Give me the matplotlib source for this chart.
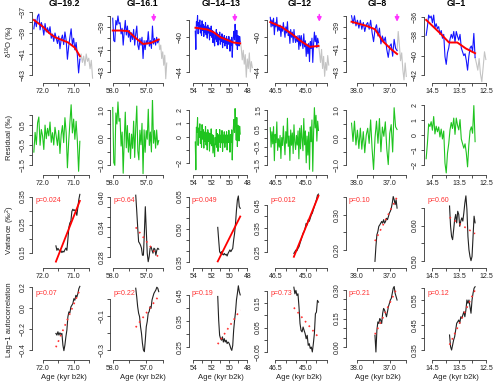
import numpy as np
import matplotlib
matplotlib.use("Agg")
import matplotlib.pyplot as plt

plt.rcParams["font.family"] = ["Liberation Sans", "DejaVu Sans"]
plt.rcParams["mathtext.default"] = "regular"

events = ["GI−19.2", "GI−16.1", "GI−14−13", "GI−12", "GI−8", "GI−1"]
row_labels = ["δ$^{18}$O (‰)", "Residual (‰)", "Variance (‰$^{2}$)", "Lag−1 autocorrelation"]

# age spans (kyr b2k)
record_start = [72.29, 58.00, 53.80, 46.75, 38.16, 14.72]
record_end = [70.81, 56.62, 48.80, 44.40, 36.78, 12.90]
tail_end = [70.40, 56.38, 47.45, 43.90, 36.50, 12.50]
window_start = [71.58, 57.31, 51.30, 45.60, 37.45, 13.85]
arrow_age = [None, 56.77, 49.40, 44.36, 36.78, None]

# d18O before each warming (blue)
d18o_gi19 = [-38.6, -37.7, -38.4, -37.4, -37.2, -38.7, -38.0, -38.4, -39.2, -38.1,
             -38.9, -38.5, -39.0, -38.4, -39.5, -39.1, -39.8, -39.0, -39.5, -40.0,
             -39.3, -40.5, -39.6, -39.2, -40.1, -38.9, -39.7, -41.5, -40.3, -39.4,
             -38.6, -40.1, -39.5, -40.6, -39.9, -41.1, -42.8, -41.5]
d18o_gi16 = [-38.2, -40.2, -40.3, -38.4, -38.8, -38.0, -38.7, -38.6, -39.6, -39.1,
             -40.6, -39.4, -38.4, -39.7, -38.9, -39.9, -39.3, -40.3, -39.5, -40.1,
             -39.2, -40.6, -39.6, -38.9, -40.6, -41.0, -40.0, -40.6, -39.9, -41.8,
             -40.2, -41.0, -40.2, -40.5, -39.4, -40.7, -40.2, -40.9, -38.9, -40.5,
             -40.0, -40.6, -39.9, -40.4, -40.2]
d18o_gi14 = [-39.3, -41.4, -38.2, -38.6, -37.5, -39.6, -38.3, -39.0, -38.0, -39.5,
             -38.6, -39.8, -38.1, -39.2, -38.5, -39.9, -38.7, -39.4, -38.3, -39.7,
             -38.8, -40.1, -38.6, -39.5, -38.9, -40.3, -39.0, -39.8, -38.7, -40.0,
             -39.2, -40.6, -39.3, -40.4, -41.0, -39.6, -40.2, -39.1, -40.5, -39.5,
             -40.9, -39.7, -40.3, -39.4, -40.8, -39.9, -40.5, -39.6, -41.2, -40.0,
             -40.6, -39.8, -41.0, -40.1, -40.7, -39.9, -41.3, -40.2, -40.8, -39.9,
             -40.5, -41.6, -40.3, -40.9, -40.0, -42.3, -40.6, -39.9, -39.3, -40.3,
             -38.5, -39.6, -40.9, -39.2, -41.4, -39.8, -40.2, -41.0, -39.9, -40.5]
d18o_gi12 = [-37.7, -38.8, -38.0, -38.7, -37.8, -39.7, -38.3, -38.8, -37.7, -39.3,
             -38.7, -39.2, -38.6, -39.9, -38.8, -39.3, -38.3, -39.2, -40.0, -38.8,
             -39.5, -38.2, -39.8, -39.3, -40.7, -39.1, -40.0, -39.4, -40.6, -39.1,
             -40.1, -40.6, -39.9, -40.5, -39.8, -41.4, -39.8, -41.0, -39.8, -40.6,
             -41.3, -39.6, -41.1, -40.4, -42.2, -40.8, -41.9, -40.7, -42.8, -40.5,
             -41.3, -40.1, -42.9, -40.8, -39.4, -40.5, -39.8, -41.2, -40.1, -40.6]
d18o_gi8 = [-38.0, -38.7, -38.0, -38.9, -38.4, -39.1, -38.4, -39.2, -38.6, -39.4,
            -38.8, -38.6, -39.2, -38.4, -39.5, -40.3, -39.2, -38.8, -39.8, -39.1,
            -40.5, -39.8, -40.3, -39.9, -41.0, -41.7, -40.7, -40.5, -41.6, -40.1,
            -40.9, -41.1]
d18o_gi1 = [-37.9, -37.0, -35.8, -36.1, -35.9, -36.6, -35.8, -37.1, -36.7, -37.2,
            -37.0, -37.8, -37.4, -38.2, -37.8, -40.1, -40.9, -39.7, -39.2, -38.3,
            -37.8, -38.2, -37.5, -38.6, -37.5, -38.0, -38.4, -37.8, -39.2, -39.6,
            -40.0, -39.8, -40.5, -41.5, -40.1, -39.2, -39.0, -39.5, -37.7, -40.2]

# record after the analysed segment (grey)
tail_gi19 = [-41.5, -41.0, -41.8, -41.2, -42.1, -41.0, -41.7, -41.4, -42.4, -41.6, -43.3]
tail_gi16 = [-40.2, -41.0, -40.6, -41.8, -41.2, -42.4, -41.5, -43.6, -42.2]
tail_gi14 = [-40.5, -41.2, -42.6, -41.5, -43.1, -42.0, -44.6, -42.5, -43.6, -41.8, -44.0, -42.8, -43.5]
tail_gi12 = [-40.6, -41.8, -42.9, -41.4, -43.6, -42.2, -44.5, -42.9, -43.8, -42.1, -43.2]
tail_gi8 = [-41.1, -39.4, -40.6, -42.0, -41.3, -42.8, -43.7, -42.2, -43.4]
tail_gi1 = [-40.2, -40.8, -41.5, -40.3, -41.9, -42.7, -41.2, -39.6, -40.4]

# smoothed trend (red)
trend_age_gi19 = [72.29, 72.0, 71.8, 71.61, 71.19, 70.97, 70.81]
trend_gi19 = [-37.76, -38.4, -39.0, -39.4, -39.9, -40.4, -41.2]
trend_age_gi16 = [58.0, 57.75, 57.54, 57.3, 57.09, 56.85, 56.62]
trend_gi16 = [-39.3, -39.3, -39.35, -40.0, -40.5, -40.4, -40.1]
trend_age_gi14 = [53.78, 52.48, 51.78, 51.0, 50.26, 49.56, 48.8]
trend_gi14 = [-38.9, -39.1, -39.4, -40.0, -40.3, -40.6, -40.7]
trend_age_gi12 = [46.75, 46.2, 45.71, 45.22, 44.82, 44.4]
trend_gi12 = [-38.25, -38.8, -39.6, -40.5, -41.1, -41.0]
trend_age_gi8 = [38.16, 37.71, 37.45, 37.2, 36.95, 36.78]
trend_gi8 = [-38.53, -38.9, -39.2, -40.3, -41.0, -41.4]
trend_age_gi1 = [14.72, 14.19, 13.87, 13.56, 13.25, 12.9]
trend_gi1 = [-36.3, -37.71, -38.64, -38.64, -39.25, -39.75]

# rolling variance
var_gi19 = [0.174, 0.158, 0.165, 0.160, 0.152, 0.157, 0.150, 0.155, 0.152, 0.160, 0.166, 0.158, 0.197,
            0.240, 0.256, 0.262, 0.297, 0.305, 0.300, 0.303, 0.296, 0.283, 0.312, 0.340, 0.358]
var_gi16 = [0.403, 0.373, 0.340, 0.310, 0.307, 0.303, 0.297, 0.283, 0.283, 0.327, 0.380, 0.333, 0.287,
            0.270, 0.280, 0.297, 0.300, 0.293, 0.287, 0.297, 0.295, 0.283, 0.293, 0.297, 0.295]
var_gi14 = [0.508, 0.450, 0.396, 0.388, 0.396, 0.385, 0.381, 0.388, 0.381, 0.384, 0.376, 0.388, 0.396,
            0.404, 0.396, 0.404, 0.411, 0.450, 0.481, 0.527, 0.588, 0.635, 0.653, 0.604, 0.596]
var_gi12 = [0.243, 0.250, 0.257, 0.254, 0.264, 0.271, 0.286, 0.300, 0.314, 0.329, 0.336, 0.350, 0.371,
            0.364, 0.386, 0.379, 0.393, 0.407, 0.414, 0.429, 0.443, 0.457, 0.471, 0.490, 0.495]
var_gi8 = [0.167, 0.210, 0.243, 0.252, 0.267, 0.271, 0.276, 0.281, 0.276, 0.286, 0.276, 0.281,
           0.290, 0.286, 0.295, 0.305, 0.310, 0.319, 0.333, 0.352, 0.343, 0.329, 0.343, 0.319]
var_gi1 = [0.656, 0.598, 0.569, 0.560, 0.588, 0.617, 0.632, 0.608, 0.641, 0.632, 0.598, 0.613, 0.622,
           0.613, 0.637, 0.665, 0.685, 0.646, 0.569, 0.531, 0.512, 0.500, 0.512, 0.569, 0.627, 0.608]

# rolling lag-1 autocorrelation
ac_gi19 = [-0.242, -0.258, -0.226, -0.258, -0.236, -0.252, -0.242, -0.353, -0.406, -0.353, -0.274, -0.210,
           -0.084, -0.037, -0.046, 0.010, 0.026, 0.042, 0.089, 0.074, 0.121, 0.105, 0.137, 0.184, 0.206]
ac_gi16 = [0.063, 0.014, -0.045, -0.084, -0.104, -0.163, -0.202, -0.261, -0.300, -0.310, -0.241, -0.163,
           -0.133, -0.084, -0.075, -0.045, -0.055, -0.006, 0.014, 0.033, 0.043, 0.053, 0.069, 0.063, 0.043]
ac_gi14 = [0.444, 0.353, 0.295, 0.282, 0.276, 0.289, 0.269, 0.282, 0.269, 0.276, 0.263, 0.269, 0.265,
           0.256, 0.244, 0.237, 0.256, 0.315, 0.353, 0.385, 0.431, 0.456, 0.485, 0.463, 0.450]
ac_gi12 = [0.215, 0.188, 0.202, 0.181, 0.188, 0.134, 0.066, 0.038, 0.032, 0.052, 0.038, 0.025, 0.004,
           0.018, -0.023, -0.016, -0.036, -0.030, -0.050, -0.016, 0.025, 0.106, 0.113, 0.161, 0.154]
ac_gi8 = [0.062, -0.026, 0.088, 0.132, 0.124, 0.150, 0.141, 0.124, 0.177, 0.203, 0.194, 0.177,
          0.159, 0.185, 0.212, 0.229, 0.247, 0.256, 0.282, 0.309, 0.318, 0.282, 0.265, 0.247]
ac_gi1 = [0.410, 0.363, 0.350, 0.370, 0.390, 0.403, 0.430, 0.457, 0.463, 0.470, 0.457, 0.483, 0.477,
          0.490, 0.503, 0.483, 0.510, 0.550, 0.537, 0.550, 0.523, 0.497, 0.550, 0.577, 0.597, 0.603]

p_var = ["p=0.024", "p=0.64", "p=0.049", "p=0.012", "p=0.10", "p=0.60"]
p_ac = ["p=0.07", "p=0.22", "p=0.19", "p=0.73", "p=0.21", "p=0.12"]

d18o = [d18o_gi19, d18o_gi16, d18o_gi14, d18o_gi12, d18o_gi8, d18o_gi1]
tails = [tail_gi19, tail_gi16, tail_gi14, tail_gi12, tail_gi8, tail_gi1]
trend_ages = [trend_age_gi19, trend_age_gi16, trend_age_gi14, trend_age_gi12, trend_age_gi8, trend_age_gi1]
trends = [trend_gi19, trend_gi16, trend_gi14, trend_gi12, trend_gi8, trend_gi1]
variances = [var_gi19, var_gi16, var_gi14, var_gi12, var_gi8, var_gi1]
autocorr = [ac_gi19, ac_gi16, ac_gi14, ac_gi12, ac_gi8, ac_gi1]

# axes
x_ticks = [[72.0, 71.5, 71.0, 70.5], [58.0, 57.5, 57.0, 56.5], [54, 53, 52, 51, 50, 49, 48],
           [46.5, 46.0, 45.5, 45.0, 44.5, 44.0], [38.0, 37.5, 37.0, 36.5], [14.5, 14.0, 13.5, 13.0, 12.5]]
x_ticklabels = [["72.0", "", "71.0", ""], ["58.0", "", "57.0", ""], ["54", "", "52", "", "50", "", "48"],
                ["46.5", "", "", "45.0", "", ""], ["38.0", "", "37.0", ""], ["14.5", "", "13.5", "", "12.5"]]
x_limits = [(72.35, 70.29), (58.07, 56.15), (54.52, 47.40), (46.90, 43.78), (38.34, 36.40), (14.80, 12.42)]

y_ticks = [
    [[-43, -42, -41, -40, -39, -38, -37], [-43, -42, -41, -40, -39, -38], [-44, -42, -40, -38],
     [-44, -42, -40, -38], [-43, -42, -41, -40, -39, -38], [-42, -40, -38, -36]],
    [[-1.5, -1.0, -0.5, 0.0, 0.5, 1.0], [-1.0, -0.5, 0.0, 0.5, 1.0], [-2, -1, 0, 1, 2],
     [-1.5, -1.0, -0.5, 0.0, 0.5, 1.0, 1.5], [-1.0, -0.5, 0.0, 0.5, 1.0], [-2, -1, 0, 1, 2]],
    [[0.15, 0.20, 0.25, 0.30, 0.35], [0.28, 0.30, 0.32, 0.34, 0.36, 0.38, 0.40],
     [0.35, 0.40, 0.45, 0.50, 0.55, 0.60, 0.65], [0.25, 0.30, 0.35, 0.40, 0.45],
     [0.20, 0.25, 0.30, 0.35], [0.50, 0.55, 0.60, 0.65]],
    [[-0.4, -0.2, 0.0, 0.2], [-0.3, -0.2, -0.1, 0.0], [0.25, 0.30, 0.35, 0.40, 0.45],
     [-0.05, 0.00, 0.05, 0.10, 0.15, 0.20], [0.00, 0.05, 0.10, 0.15, 0.20, 0.25, 0.30],
     [0.35, 0.40, 0.45, 0.50, 0.55, 0.60]],
]
y_ticklabels = [
    [["−43", "", "−41", "", "−39", "", "−37"], ["−43", "", "−41", "", "−39", ""], ["−44", "", "−40", ""],
     ["−44", "", "−40", ""], ["−43", "", "−41", "", "−39", ""], ["−42", "−40", "−38", "−36"]],
    [["−1.5", "", "−0.5", "", "0.5", ""], ["−1.0", "", "0.0", "", "1.0"], ["−2", "", "0", "1", "2"],
     ["−1.5", "", "−0.5", "", "0.5", "", "1.5"], ["−1.0", "", "0.0", "", "1.0"], ["−2", "−1", "0", "1", "2"]],
    [["0.15", "", "0.25", "", "0.35"], ["0.28", "", "", "0.34", "", "", "0.40"],
     ["0.35", "", "", "0.50", "", "", "0.65"], ["0.25", "", "0.35", "", "0.45"],
     ["0.20", "", "0.30", ""], ["0.50", "", "0.60", ""]],
    [["−0.4", "−0.2", "0.0", "0.2"], ["−0.3", "", "−0.1", ""], ["0.25", "", "0.35", "", "0.45"],
     ["−0.05", "", "0.05", "", "0.15", ""], ["0.00", "", "", "0.15", "", "", "0.30"],
     ["0.35", "", "0.45", "", "0.55", ""]],
]
y_limits = [
    [(-43.76, -36.62), (-43.98, -37.29), (-45.27, -36.62), (-45.27, -36.62), (-43.98, -37.31), (-42.83, -35.07)],
    [(-2.0, 1.75), (-1.36, 1.36), (-2.91, 2.75), (-2.05, 2.05), (-1.36, 1.36), (-2.72, 2.34)],
    [(0.096, 0.364), (0.258, 0.408), (0.322, 0.668), (0.182, 0.501), (0.149, 0.363), (0.480, 0.694)],
    [(-0.495, 0.219), (-0.359, 0.082), (0.20, 0.488), (-0.083, 0.224), (-0.068, 0.326), (0.31, 0.61)],
]

W, H = 500.0, 384.0
col_left = [32 + 78.4 * i for i in range(6)]
row_bottom = [83, 175.3, 267.7, 360]
ax_w, ax_h = 64, 75
label_y = [42, 138, 230, 320]

fig = plt.figure(figsize=(W / 100, H / 100), dpi=100)


def style(ax, r, c):
    ax.set_xlim(x_limits[c])
    ax.set_ylim(y_limits[r][c])
    ax.patch.set_visible(False)
    for s in ("top", "right"):
        ax.spines[s].set_visible(False)
    for s in ("left", "bottom"):
        ax.spines[s].set_linewidth(0.6)
        ax.spines[s].set_color("#333333")
    ax.spines["left"].set_bounds(min(y_ticks[r][c]), max(y_ticks[r][c]))
    ax.spines["bottom"].set_bounds(min(x_ticks[c]), max(x_ticks[c]))
    ax.set_xticks(x_ticks[c])
    ax.set_xticklabels(x_ticklabels[c])
    ax.set_yticks(y_ticks[r][c])
    ax.set_yticklabels(y_ticklabels[r][c], rotation=90, va="center")
    ax.tick_params(direction="out", length=2.5, width=0.6, pad=1.2, labelsize=5,
                   color="#333333", labelcolor="#222222")


for c in range(6):
    axes = [fig.add_axes([col_left[c] / W, 1 - row_bottom[r] / H, ax_w / W, ax_h / H]) for r in range(4)]

    age = np.linspace(record_start[c], record_end[c], len(d18o[c]))
    tail_age = np.linspace(record_end[c], tail_end[c], len(tails[c]))
    ta, tv = np.array(trend_ages[c]), np.array(trends[c])
    resid = np.array(d18o[c]) - np.interp(age[::-1], ta[::-1], tv[::-1])[::-1]

    ax = axes[0]
    ax.plot(tail_age, tails[c], color="#c4c4c4", lw=0.8)
    ax.plot(age, d18o[c], color="#1414ff", lw=0.8)
    ax.plot(ta, tv, color="#ff0000", lw=1.4)
    if arrow_age[c] is not None:
        ax.annotate("", xy=(arrow_age[c], 0.78), xycoords=("data", "axes fraction"),
                    xytext=(arrow_age[c], 0.95), textcoords=("data", "axes fraction"),
                    arrowprops=dict(arrowstyle="-|>", color="#ff33ff", lw=1.1, mutation_scale=6))
    ax.set_title(events[c], fontsize=6.3, fontweight="bold", pad=-0.5)

    axes[1].plot(age, resid, color="#1fc41f", lw=0.8)

    for r, series, ptxt in ((2, variances[c], p_var[c]), (3, autocorr[c], p_ac[c])):
        ax = axes[r]
        wa = np.linspace(window_start[c], record_end[c], len(series))
        ax.plot(wa, series, color="#222222", lw=0.8)
        k, b = np.polyfit(wa, series, 1)
        fit = k * wa + b
        if float(ptxt[2:]) < 0.05:
            ax.plot(wa, fit, color="#ff0000", lw=1.3)
        else:
            ax.plot(wa, fit, color="#ff3030", lw=1.2, linestyle=(0, (1, 2.5)))
        ax.text(0.05, 0.87, ptxt, transform=ax.transAxes, fontsize=5, color="#ff3030")

    for r in range(4):
        style(axes[r], r, c)
    axes[3].set_xlabel("Age (kyr b2k)", fontsize=5.5, labelpad=1.5, color="#222222")

for r in range(4):
    fig.text(10 / W, 1 - label_y[r] / H, row_labels[r], rotation=90, ha="center", va="center",
             fontsize=5.5, color="#222222")

fig.savefig("out.png", dpi=100)
